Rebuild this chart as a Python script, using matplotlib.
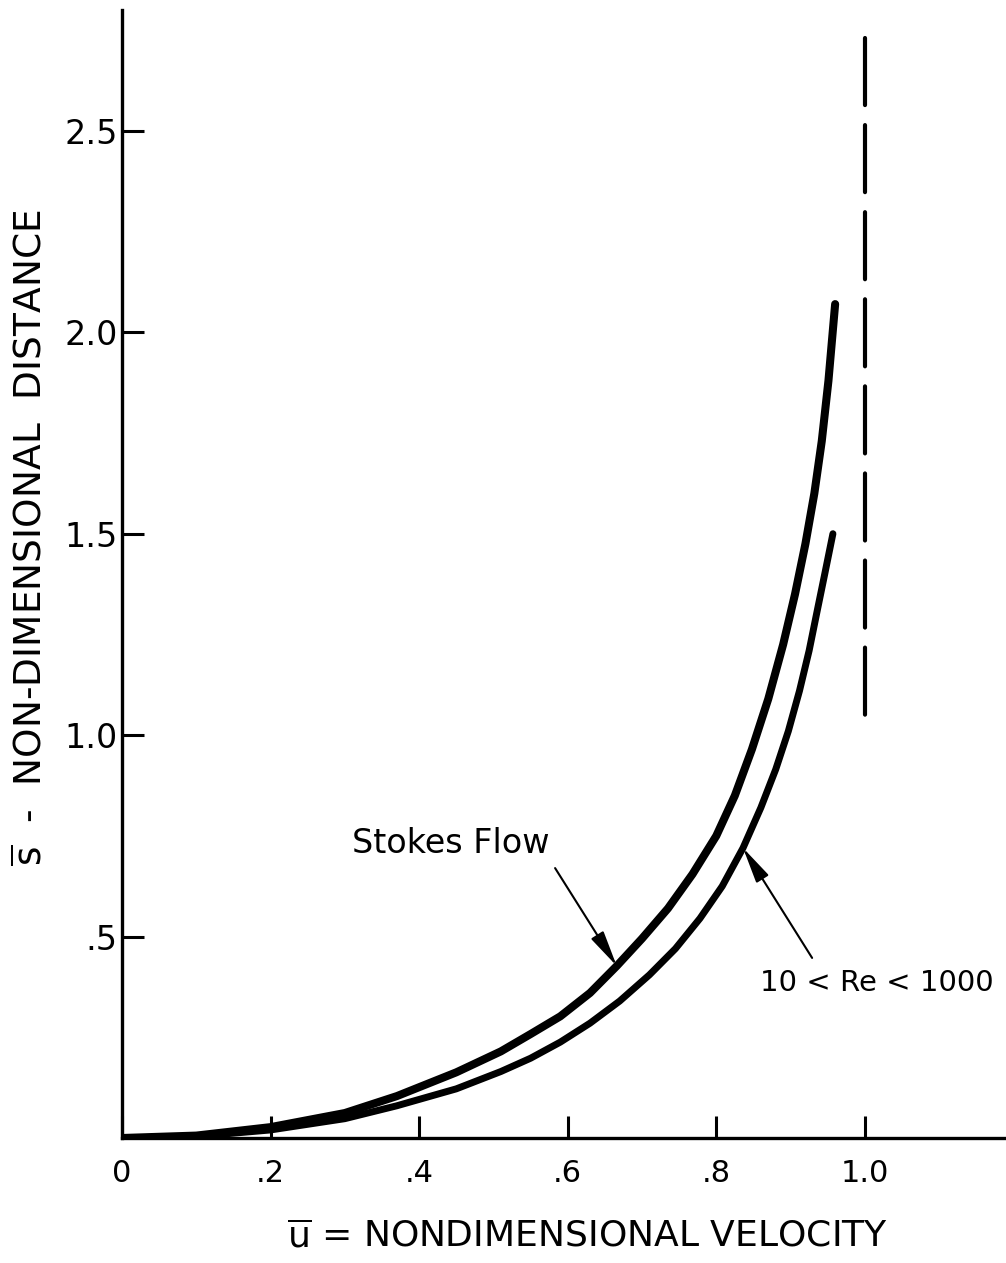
import matplotlib
matplotlib.use("Agg")
import matplotlib.pyplot as plt

# valores
u_stokes = [0.0, 0.10, 0.20, 0.30, 0.37, 0.45, 0.51, 0.55, 0.59, 0.63, 0.666,
            0.70, 0.735, 0.768, 0.80, 0.825, 0.848, 0.870, 0.890, 0.906, 0.920,
            0.932, 0.942, 0.951, 0.960]
s_stokes = [0.0, 0.006, 0.027, 0.062, 0.104, 0.163, 0.215, 0.258, 0.302, 0.360, 0.427,
            0.495, 0.570, 0.655, 0.750, 0.850, 0.965, 1.090, 1.225, 1.350, 1.475,
            1.600, 1.730, 1.880, 2.070]

u_re = [0.0, 0.10, 0.20, 0.30, 0.37, 0.45, 0.51, 0.55, 0.59, 0.63, 0.67,
        0.71, 0.745, 0.778, 0.808, 0.836, 0.860, 0.880, 0.897, 0.912, 0.925,
        0.936, 0.946, 0.957]
s_re = [0.0, 0.004, 0.020, 0.048, 0.080, 0.122, 0.165, 0.198, 0.238, 0.285, 0.340,
        0.405, 0.470, 0.545, 0.625, 0.720, 0.820, 0.915, 1.010, 1.110, 1.210,
        1.310, 1.400, 1.500]

limit_u = [1.0, 1.0]
limit_s = [2.73, 1.04]

xticks = [0, 0.2, 0.4, 0.6, 0.8, 1.0]
xlabels = ['0', '.2', '.4', '.6', '.8', '1.0']
yticks = [0.5, 1.0, 1.5, 2.0, 2.5]
ylabels = ['.5', '1.0', '1.5', '2.0', '2.5']

plt.rcParams['font.family'] = ['DejaVu Sans']

fig = plt.figure(figsize=(10.06, 12.63), dpi=100)
ax = fig.add_axes([122 / 1006, 125 / 1263, 884 / 1006, 1128 / 1263])

ax.plot(u_stokes, s_stokes, color='black', lw=5.8, solid_capstyle='round',
        solid_joinstyle='round')
ax.plot(u_re, s_re, color='black', lw=5.0, solid_capstyle='round',
        solid_joinstyle='round')

# linha tracejada em u = 1 (8 tracos)
dash, = ax.plot(limit_u, limit_s, color='black', lw=3.0, dash_capstyle='round')
dash.set_dashes((16.1, 4.8))

ax.set_xlim(0, 1.19)
ax.set_ylim(0, 2.80)

for side in ['top', 'right']:
    ax.spines[side].set_visible(False)
for side in ['left', 'bottom']:
    ax.spines[side].set_linewidth(2.4)

ax.set_xticks(xticks)
ax.set_xticklabels(xlabels)
ax.set_yticks(yticks)
ax.set_yticklabels(ylabels)
ax.tick_params(axis='both', direction='in', length=16, width=2.2)
ax.tick_params(axis='x', labelsize=22, pad=15)
ax.tick_params(axis='y', labelsize=24, pad=3)

ax.set_xlabel(r'$\mathregular{\overline{u}}$ = NONDIMENSIONAL VELOCITY', fontsize=26, va='center')
ax.xaxis.set_label_coords(0.527, -0.088)
ax.set_ylabel(r'$\mathregular{\overline{s}}$  -  NON-DIMENSIONAL  DISTANCE', fontsize=27, va='center')
ax.yaxis.set_label_coords(-0.102, 0.532)

arrow = dict(arrowstyle='-|>,head_length=1.1,head_width=0.22', color='black',
             lw=1.5, mutation_scale=20, shrinkA=0, shrinkB=0)
ax.text(0.443, 0.732, 'Stokes Flow', fontsize=24, ha='center', va='center')
ax.annotate('', xy=(0.666, 0.427), xytext=(0.583, 0.670), arrowprops=arrow)
ax.text(1.016, 0.385, '10 < Re < 1000', fontsize=21, ha='center', va='center')
ax.annotate('', xy=(0.836, 0.72), xytext=(0.929, 0.447), arrowprops=arrow)

fig.savefig('out.png', dpi=100)
